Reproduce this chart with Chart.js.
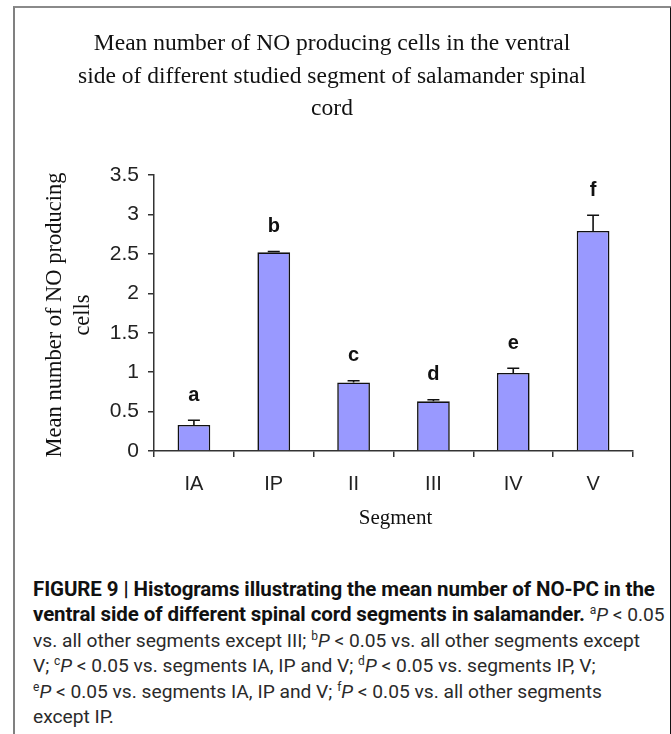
<!DOCTYPE html>
<html>
<head>
<meta charset="utf-8">
<script src="https://cdn.jsdelivr.net/npm/chart.js@4.4.0/dist/chart.umd.min.js"></script>
<style>
  html, body { margin:0; padding:0; background:#fff; }
  body { width:671px; height:734px; position:relative; overflow:hidden; }
  #frame { position:absolute; left:13px; top:6px; width:655px; height:740px;
           border-left:2px solid #808080; border-top:2px solid #8a8a8a; border-right:2px solid #111; }
  #wrap { position:absolute; left:0; top:0; width:671px; height:560px; }
  #caption { position:absolute; left:33px; top:577px; width:634px;
             font-family: Roboto, "Liberation Sans", sans-serif; font-size:19.2px; line-height:25.4px;
             color:#2a2a2a; letter-spacing:0px; white-space:nowrap; }
  #caption b { font-weight:700; color:#111; font-size:20.5px; letter-spacing:-0.1px; }
  #caption sup { font-size:12px; vertical-align:7px; line-height:0; }
  #caption i { font-style:italic; }
</style>
</head>
<body>
<div id="frame"></div>
<div id="wrap"><canvas id="c" width="671" height="560"></canvas></div>
<div id="caption">
<div><b>FIGURE 9 | Histograms illustrating the mean number of NO-PC in the</b></div>
<div><b>ventral side of different spinal cord segments in salamander.</b> <sup>a</sup><i>P</i> &lt; 0.05</div>
<div>vs. all other segments except III; <sup>b</sup><i>P</i> &lt; 0.05 vs. all other segments except</div>
<div>V; <sup>c</sup><i>P</i> &lt; 0.05 vs. segments IA, IP and V; <sup>d</sup><i>P</i> &lt; 0.05 vs. segments IP, V;</div>
<div><sup>e</sup><i>P</i> &lt; 0.05 vs. segments IA, IP and V; <sup>f</sup><i>P</i> &lt; 0.05 vs. all other segments</div>
<div>except IP.</div>
</div>
<script>
// ---- data ----
const segments = ['IA', 'IP', 'II', 'III', 'IV', 'V'];
const meanValues = [0.33, 2.52, 0.87, 0.63, 0.99, 2.79];
const errorValues = [0.06, 0.01, 0.02, 0.02, 0.06, 0.20];
const sigLetters = ['a', 'b', 'c', 'd', 'e', 'f'];
const yTickLabels = ['0', '0.5', '1', '1.5', '2', '2.5', '3', '3.5'];
const titleLines = ['Mean number of NO producing cells in the ventral',
                    'side of different studied segment of salamander spinal',
                    'cord'];
const yTitleLines = ['Mean number of NO producing', 'cells'];
const xTitle = 'Segment';

const SERIF = '"Liberation Serif", "Times New Roman", "DejaVu Serif", serif';
const SANS = '"Liberation Sans", Arial, sans-serif';

const annotations = {
  id: 'annotations',
  afterDatasetsDraw(chart) {
    const ctx = chart.ctx;
    const y = chart.scales.y;
    const meta = chart.getDatasetMeta(0);
    ctx.save();
    ctx.strokeStyle = '#111';
    ctx.lineWidth = 1.6;
    meta.data.forEach((bar, i) => {
      const x = bar.x;
      const y0 = y.getPixelForValue(meanValues[i]);
      const y1 = y.getPixelForValue(meanValues[i] + errorValues[i]);
      ctx.beginPath();
      ctx.moveTo(x, y0); ctx.lineTo(x, y1);
      ctx.moveTo(x - 6, y1); ctx.lineTo(x + 6, y1);
      ctx.stroke();
      ctx.fillStyle = '#111';
      ctx.font = 'bold 20px ' + SANS;
      ctx.textAlign = 'center';
      ctx.textBaseline = 'middle';
      ctx.fillText(sigLetters[i], x, y1 - 25);
    });
    ctx.restore();
  },
  afterDraw(chart) {
    const ctx = chart.ctx;
    const area = chart.chartArea;
    ctx.save();
    ctx.fillStyle = '#111';
    ctx.textAlign = 'center';
    ctx.textBaseline = 'middle';
    ctx.font = '23.5px ' + SERIF;
    titleLines.forEach((t, i) => ctx.fillText(t, 332, 44 + i * 32.5));
    ctx.font = '21px ' + SERIF;
    ctx.fillText(xTitle, (area.left + area.right) / 2 + 2, 518);
    ctx.save();
    ctx.translate(55, (area.top + area.bottom) / 2 + 2);
    ctx.rotate(-Math.PI / 2);
    ctx.font = '22.5px ' + SERIF;
    ctx.fillText(yTitleLines[0], 0, 0);
    ctx.fillText(yTitleLines[1], 0, 28);
    ctx.restore();
    ctx.restore();
  }
};

new Chart(document.getElementById('c'), {
  type: 'bar',
  data: {
    labels: segments,
    datasets: [{
      data: meanValues,
      backgroundColor: '#9999ff',
      borderColor: '#111',
      borderWidth: 1.6,
      barPercentage: 0.41,
      categoryPercentage: 1.0
    }]
  },
  options: {
    responsive: false,
    animation: false,
    devicePixelRatio: 1,
    layout: { padding: { top: 175, left: 0, right: 38, bottom: 0 } },
    plugins: { legend: { display: false }, title: { display: false }, tooltip: { enabled: false } },
    scales: {
      x: {
        offset: true,
        grid: { display: true, drawOnChartArea: false, drawTicks: true, tickLength: 6, color: '#333', lineWidth: 1.5, offset: true },
        border: { display: true, color: '#333', width: 1.5 },
        ticks: { color: '#222', font: { family: SANS, size: 20 }, padding: 15 },
        afterFit: s => { s.height = 560 - 451; }
      },
      y: {
        min: 0, max: 3.5,
        grid: { display: true, drawOnChartArea: false, drawTicks: true, tickLength: 6, color: '#333', lineWidth: 1.5 },
        border: { display: true, color: '#333', width: 1.5 },
        ticks: { stepSize: 0.5, color: '#222', font: { family: SANS, size: 21 }, padding: 9,
                 callback: (v, i) => yTickLabels[i] },
        afterFit: s => { s.width = 154; }
      }
    }
  },
  plugins: [annotations]
});
</script>
</body>
</html>
